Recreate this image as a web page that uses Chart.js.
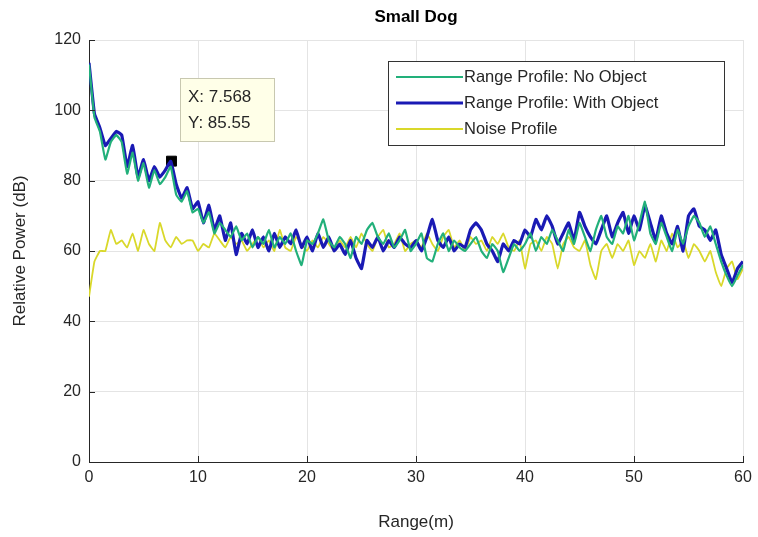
<!DOCTYPE html>
<html lang="en">
<head>
    <meta charset="UTF-8">
    <title>Small Dog</title>
    <script src="https://cdn.jsdelivr.net/npm/chart.js"></script>
    <style>
        body { margin: 0; background: #ffffff; }
        #wrap { width: 758px; height: 537px; }
    </style>
</head>
<body>
    <div id="wrap"><canvas id="chart"></canvas></div>
    <script>
        // range axis, 0.5 m steps
        const rangeM = [];
        for (let i = 0; i <= 120; i++) rangeM.push(i * 0.5);

        const noObject = [113, 98, 94, 86, 91, 93, 91, 82, 88, 80, 85, 78, 83, 79, 81, 84, 76, 74, 77, 71,
            72, 68, 71, 65, 68, 66, 64, 67, 63, 65, 61, 64, 62, 66, 61, 64, 62, 65, 60, 56,
            63, 62, 65, 69, 63, 61, 64, 62, 58, 64, 62, 66, 68, 64, 62, 65, 61, 63, 66, 60,
            62, 65, 58, 57, 62, 65, 60, 63, 61, 60, 62, 64, 60, 58, 62, 60, 54, 58, 62, 60,
            62, 65, 60, 64, 62, 66, 63, 60, 66, 62, 68, 64, 60, 66, 70, 64, 62, 67, 65, 70,
            63, 68, 74, 65, 62, 68, 64, 60, 66, 62, 67, 70, 68, 64, 67, 62, 57, 53, 50, 53, 56];

        const withObject = [113.5, 99, 95, 90, 92, 94, 93, 84, 90, 81, 86, 80, 84, 81, 83, 85.5, 79, 75, 78, 72,
            74, 68, 73, 66, 70, 63, 68, 59, 65, 62, 66, 61, 64, 60, 65, 61, 64, 62, 66, 61,
            64, 60, 65, 61, 64, 60, 62, 59, 63, 58, 55, 63, 61, 64, 60, 63, 61, 64, 62, 61,
            63, 60, 64, 69, 63, 61, 64, 60, 62, 61, 66, 68, 66, 62, 60, 57, 62, 60, 63, 62,
            66, 64, 69, 66, 70, 67, 62, 65, 68, 63, 71, 67, 64, 62, 66, 70, 64, 68, 71, 65,
            70, 66, 73, 68, 63, 70, 65, 62, 67, 60, 70, 72, 67, 66, 63, 66, 59, 55, 51, 55, 57];

        const noise = [47, 57, 60, 60, 66, 62, 63, 61, 65, 60, 66, 62, 60, 68, 63, 61, 64, 62, 63, 63,
            60, 62, 61, 65, 63, 61, 64, 62, 63, 60, 62, 64, 61, 63, 60, 66, 61, 60, 64, 62,
            60, 63, 61, 64, 62, 60, 63, 61, 64, 61, 65, 62, 60, 64, 66, 61, 62, 65, 60, 62,
            63, 61, 65, 62, 60, 64, 66, 61, 63, 60, 64, 62, 63, 60, 64, 62, 65, 61, 60, 63,
            55, 62, 63, 60, 64, 62, 55, 62, 64, 61, 60, 63, 56, 52, 60, 62, 58, 62, 60, 63,
            56, 60, 58, 62, 57, 63, 60, 65, 61, 63, 58, 62, 60, 57, 60, 54, 50, 55, 57, 52, 55];

        const seriesNames = ['Range Profile: No Object', 'Range Profile: With Object', 'Noise Profile'];
        const tipX = 7.568, tipY = 85.55;

        const FONT = '"Liberation Sans", Arial, sans-serif';
        const TXT = '#262626';

        function pts(vals) {
            return vals.map((v, i) => ({ x: rangeM[i], y: v }));
        }

        // inward ticks, legend box, data tip, title
        const decor = {
            id: 'decor',
            afterDraw(chart) {
                const ctx = chart.ctx;
                const xs = chart.scales.x, ys = chart.scales.y;
                const a = chart.chartArea;
                ctx.save();
                ctx.strokeStyle = TXT;
                ctx.lineWidth = 1;
                ctx.beginPath();
                xs.ticks.forEach(t => {
                    const px = Math.round(xs.getPixelForValue(t.value)) + 0.5;
                    ctx.moveTo(px, a.bottom); ctx.lineTo(px, a.bottom - 6);
                });
                ys.ticks.forEach(t => {
                    const py = Math.round(ys.getPixelForValue(t.value)) + 0.5;
                    ctx.moveTo(a.left, py); ctx.lineTo(a.left + 6, py);
                });
                ctx.stroke();

                // title
                ctx.fillStyle = '#000';
                ctx.font = 'bold 17px ' + FONT;
                ctx.textAlign = 'center';
                ctx.textBaseline = 'middle';
                ctx.fillText('Small Dog', (a.left + a.right) / 2, 17);

                // legend
                const lx = 388, ly = 61, lw = 336, lh = 84;
                ctx.fillStyle = '#fff';
                ctx.fillRect(lx, ly, lw, lh);
                ctx.strokeStyle = '#333';
                ctx.strokeRect(lx + 0.5, ly + 0.5, lw, lh);
                ctx.font = '16.5px ' + FONT;
                ctx.textAlign = 'left';
                chart.data.datasets.slice(0, 3).forEach((ds, i) => {
                    const y = ly + 16 + i * 26;
                    ctx.strokeStyle = ds.borderColor;
                    ctx.lineWidth = ds.borderWidth;
                    ctx.beginPath();
                    ctx.moveTo(lx + 8, y); ctx.lineTo(lx + 75, y);
                    ctx.stroke();
                    ctx.fillStyle = TXT;
                    ctx.fillText(ds.label, lx + 76, y);
                });

                // data tip box
                const bx = 180, by = 78, bw = 94, bh = 63;
                ctx.fillStyle = '#ffffe8';
                ctx.fillRect(bx, by, bw, bh);
                ctx.strokeStyle = '#c8c8b0';
                ctx.lineWidth = 1;
                ctx.strokeRect(bx + 0.5, by + 0.5, bw, bh);
                ctx.fillStyle = TXT;
                ctx.font = '17px ' + FONT;
                ctx.fillText('X: ' + tipX, bx + 8, by + 19);
                ctx.fillText('Y: ' + tipY, bx + 8, by + 45);
                ctx.restore();
            }
        };

        new Chart(document.getElementById('chart'), {
            type: 'line',
            data: {
                datasets: [{
                    label: seriesNames[0],
                    data: pts(noObject),
                    borderColor: '#22b07a',
                    borderWidth: 2.2,
                    pointRadius: 0,
                    tension: 0.1
                }, {
                    label: seriesNames[1],
                    data: pts(withObject),
                    borderColor: '#1a1ab4',
                    borderWidth: 3.2,
                    pointRadius: 0,
                    tension: 0.1
                }, {
                    label: seriesNames[2],
                    data: pts(noise),
                    borderColor: '#d9d82a',
                    borderWidth: 1.8,
                    pointRadius: 0,
                    tension: 0.1
                }, {
                    label: 'tip',
                    data: [{ x: tipX, y: tipY }],
                    showLine: false,
                    pointStyle: 'rect',
                    pointRadius: 7,
                    backgroundColor: '#000',
                    borderColor: '#000',
                    borderWidth: 1
                }]
            },
            options: {
                responsive: true,
                maintainAspectRatio: false,
                animation: false,
                layout: { padding: { top: 40, right: 15, left: 0, bottom: 0 } },
                plugins: {
                    legend: { display: false },
                    tooltip: { enabled: false }
                },
                scales: {
                    x: {
                        type: 'linear',
                        min: 0, max: 60,
                        ticks: { stepSize: 10, color: TXT, font: { family: FONT, size: 16 }, padding: 6 },
                        grid: { color: '#e4e4e4', drawTicks: false },
                        border: { color: TXT },
                        title: { display: true, text: 'Range(m)', color: TXT, font: { family: FONT, size: 17 }, padding: { top: 8 } },
                        afterFit(s) { s.height = 75; }
                    },
                    y: {
                        min: 0, max: 120,
                        ticks: { stepSize: 20, color: TXT, font: { family: FONT, size: 16 }, padding: 8 },
                        grid: { color: '#e4e4e4', drawTicks: false },
                        border: { color: TXT },
                        title: { display: true, text: 'Relative Power (dB)', color: TXT, font: { family: FONT, size: 17 }, padding: { top: 10, bottom: 6 } },
                        afterFit(s) { s.width = 89; }
                    }
                }
            },
            plugins: [decor]
        });
    </script>
</body>
</html>
